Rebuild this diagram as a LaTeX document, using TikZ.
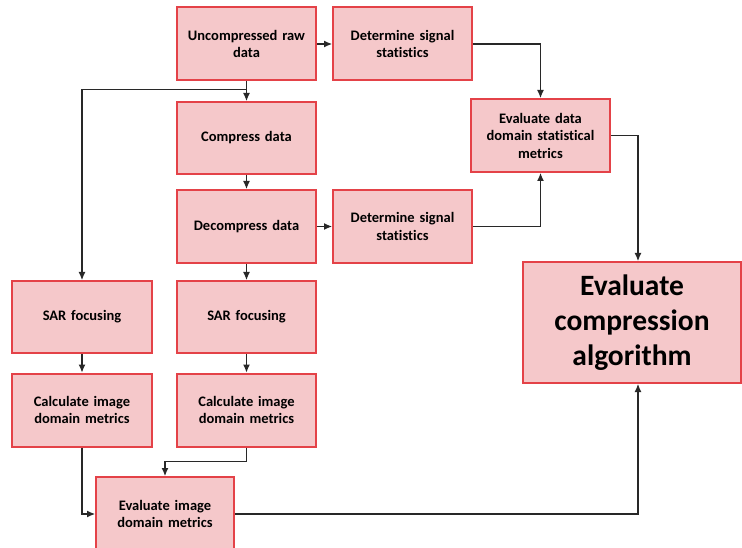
\documentclass[tikz,border=0pt]{standalone}
\usepackage{fontspec}
\setmainfont{Carlito}[Ligatures=NoCommon]
\usetikzlibrary{arrows.meta}
\definecolor{boxfill}{RGB}{245,200,202}
\definecolor{boxdraw}{RGB}{228,66,72}
\definecolor{linec}{RGB}{40,40,40}
\tikzset{
  blk/.style={draw=boxdraw, fill=boxfill, line width=2pt, minimum width=139pt, minimum height=73pt,
    text width=134pt, align=center, inner sep=0pt, font=\bfseries\fontsize{14.5}{17.5}\selectfont},
  bigblk/.style={blk, minimum width=218pt, minimum height=121pt, text width=210pt,
    font=\bfseries\fontsize{29.5}{35}\selectfont},
  arr/.style={draw=linec, line width=1.1pt, -{Latex[length=8pt,width=7pt]}},
}
\begin{document}
\begin{tikzpicture}[x=1pt,y=-1pt]
\useasboundingbox[fill=white] (0,0) rectangle (742,548);
\node[blk] (raw) at (246.5,44) {Uncompressed raw\\data\\[10pt]};
\node[blk] (det1) at (402.5,44) {Determine signal\\statistics\\[10pt]};
\node[blk, minimum height=72pt] (comp) at (246.5,138) {Compress data};
\node[blk] (evd) at (540.5,135.5) {Evaluate data\\domain statistical\\metrics};
\node[blk] (decomp) at (246.5,226.5) {Decompress data};
\node[blk] (det2) at (402.5,226.5) {Determine signal\\statistics};
\node[bigblk] (eca) at (632,322.5) {Evaluate\\compression\\algorithm};
\node[blk, minimum width=140pt, minimum height=72pt] (sarL) at (82,317) {SAR focusing};
\node[blk, minimum height=72pt] (sarR) at (246.5,317) {SAR focusing};
\node[blk, minimum width=140pt] (calcL) at (82,410) {Calculate image\\domain metrics};
\node[blk] (calcR) at (246.5,410) {Calculate image\\domain metrics};
\node[blk, minimum width=138pt, minimum height=74pt] (evi) at (165,514) {Evaluate image\\domain metrics};

\draw[arr] (raw) -- (det1);
\draw[arr] (det1.east) -| (evd.north);
\draw[arr] (evd.east) -| ([xshift=6pt]eca.north);
\draw[arr] (raw.south) -- (comp.north);
\draw[arr] ([yshift=-8pt]raw.south) -| (sarL.north);
\draw[arr] (comp) -- (decomp);
\draw[arr] (decomp) -- (det2);
\draw[arr] (det2.east) -| (evd.south);
\draw[arr] (decomp) -- (sarR);
\draw[arr] (sarL) -- (calcL);
\draw[arr] (sarR) -- (calcR);
\draw[arr] (calcL.south) |- (evi.west);
\draw[arr] (calcR.south) -- ++(0,14) -| (evi.north);
\draw[arr] (evi.east) -| ([xshift=6pt]eca.south);
\end{tikzpicture}
\end{document}
